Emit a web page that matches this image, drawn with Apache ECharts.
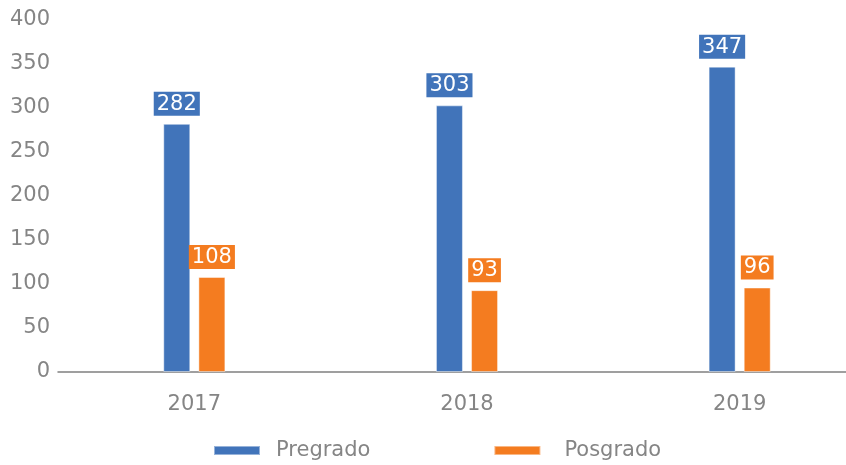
<!DOCTYPE html>
<html>
<head>
<meta charset="utf-8">
<script src="https://cdn.jsdelivr.net/npm/echarts@6/dist/echarts.min.js"></script>
<style>
  html, body { margin: 0; padding: 0; background: #ffffff; }
  #chart { width: 846px; height: 465px; }
</style>
</head>
<body>
<div id="chart"></div>
<script>
// Enrolment by level, per year
const years = ['2017', '2018', '2019'];
const pregrado = [282, 303, 347];
const posgrado = [108, 93, 96];
const seriesNames = ['Pregrado', 'Posgrado'];

const BLUE = '#4174BA';
const ORANGE = '#F47C20';
const GREY = '#858585';
const FONT = '"DejaVu Sans", sans-serif';
const WEIGHT = 'normal';

function boxedLabel(color) {
  return {
    show: true,
    position: 'top',
    distance: 8,
    color: '#ffffff',
    backgroundColor: color,
    fontFamily: FONT,
    fontWeight: WEIGHT,
    fontSize: 21,
    padding: [1, 3, 0, 3],
    lineHeight: 23
  };
}

const chart = echarts.init(document.getElementById('chart'), null, { renderer: 'canvas' });

chart.setOption({
  animation: false,
  backgroundColor: '#ffffff',
  grid: {
    left: 58, top: 20, width: 818, height: 352,
    containLabel: false, outerBoundsMode: 'none'
  },
  legend: {
    top: 439,
    left: 213,
    padding: 0,
    itemWidth: 46,
    itemHeight: 9,
    itemGap: 123,
    icon: 'rect',
    textStyle: {
      color: GREY, fontFamily: FONT, fontWeight: WEIGHT, fontSize: 21,
      lineHeight: 23, padding: [0, 0, 0, 11]
    },
    data: [
      { name: seriesNames[0] },
      { name: seriesNames[1], textStyle: { padding: [0, 0, 0, 19] } }
    ]
  },
  xAxis: {
    type: 'category',
    data: years,
    axisLine: { lineStyle: { color: '#808080', width: 1.5 } },
    axisTick: { show: false },
    axisLabel: { color: GREY, fontFamily: FONT, fontWeight: WEIGHT, fontSize: 21, margin: 22 }
  },
  yAxis: {
    type: 'value',
    min: 0,
    max: 400,
    interval: 50,
    splitLine: { show: false },
    axisLine: { show: false },
    axisTick: { show: false },
    axisLabel: { color: GREY, fontFamily: FONT, fontWeight: WEIGHT, fontSize: 21, margin: 8 }
  },
  series: [
    {
      name: seriesNames[0],
      type: 'bar',
      data: pregrado,
      barWidth: 27,
      barGap: '30%',
      itemStyle: { color: BLUE, borderColor: 'rgba(255,255,255,0.45)', borderWidth: 1 },
      label: boxedLabel(BLUE)
    },
    {
      name: seriesNames[1],
      type: 'bar',
      data: posgrado,
      barWidth: 27,
      barGap: '30%',
      itemStyle: { color: ORANGE, borderColor: 'rgba(255,255,255,0.45)', borderWidth: 1 },
      label: boxedLabel(ORANGE)
    }
  ]
});
</script>
</body>
</html>
